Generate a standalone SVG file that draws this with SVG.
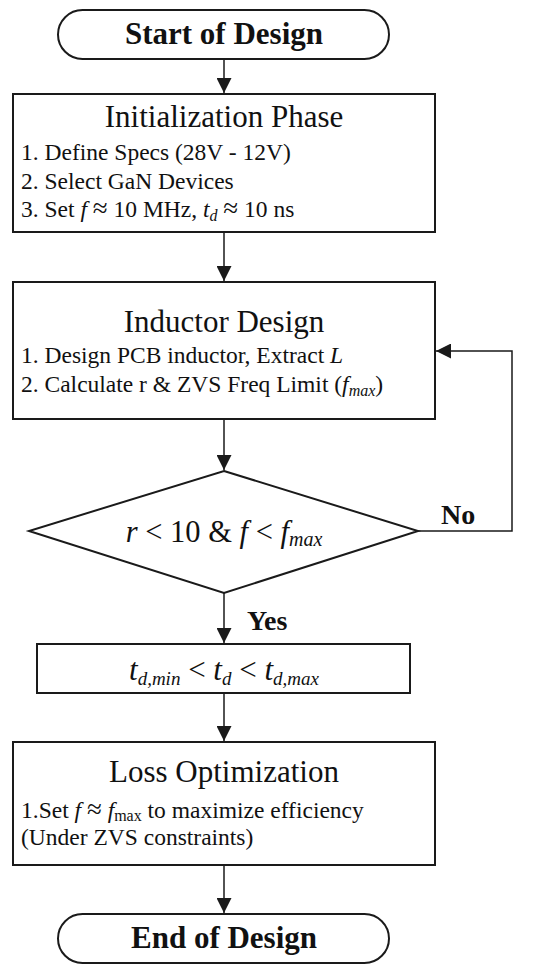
<svg xmlns="http://www.w3.org/2000/svg" width="550" height="972" viewBox="0 0 550 972">
<style>
.box{fill:#fff;stroke:#1a1a1a;stroke-width:2}
.ln{stroke:#1a1a1a;stroke-width:1.5;fill:none}
.t{font-family:"Liberation Serif","Times New Roman",serif;fill:#111}
.b{font-weight:bold}
.i{font-style:italic}
.h{font-size:31px}
.p{font-size:23.5px}
</style>
<defs>
<marker id="arr" viewBox="0 0 10 10" refX="10" refY="5" markerWidth="15" markerHeight="15" markerUnits="userSpaceOnUse" orient="auto">
<path d="M0,0 L10,5 L0,10 z" fill="#1a1a1a"/>
</marker>
</defs>
<rect width="550" height="972" fill="#fff"/>
<g id="connectors">
<line class="ln" x1="224" y1="59" x2="224" y2="93" marker-end="url(#arr)"/>
<line class="ln" x1="224" y1="232" x2="224" y2="281" marker-end="url(#arr)"/>
<line class="ln" x1="224" y1="419" x2="224" y2="470" marker-end="url(#arr)"/>
<polyline class="ln" points="418,531 512,531 512,351 436,351" marker-end="url(#arr)"/>
<line class="ln" x1="224" y1="593" x2="224" y2="643" marker-end="url(#arr)"/>
<line class="ln" x1="224" y1="693" x2="224" y2="741" marker-end="url(#arr)"/>
<line class="ln" x1="224" y1="865" x2="224" y2="913" marker-end="url(#arr)"/>
<text class="t b" x="441" y="524" font-size="28">No</text>
<text class="t b" x="247" y="630" font-size="28">Yes</text>
</g>
<g id="start">
<rect class="box" x="58" y="10" width="331" height="49" rx="24.5"/>
<text class="t b h" x="224" y="44" text-anchor="middle">Start of Design</text>
</g>
<g id="init">
<rect class="box" x="13" y="94" width="422" height="138"/>
<text class="t h" x="224" y="127" text-anchor="middle">Initialization Phase</text>
<text class="t p" x="21" y="160">1. Define Specs (28V - 12V)</text>
<text class="t p" x="21" y="188.5">2. Select GaN Devices</text>
<text class="t p" x="21" y="217">3. Set <tspan class="i">f</tspan> <tspan font-size="27">≈</tspan> 10 MHz, <tspan class="i">t</tspan><tspan class="i" font-size="16" dy="4">d</tspan><tspan dy="-4"> </tspan><tspan font-size="27">≈</tspan> 10 ns</text>
</g>
<g id="inductor">
<rect class="box" x="13" y="282" width="422" height="137"/>
<text class="t h" x="224" y="332" text-anchor="middle">Inductor Design</text>
<text class="t p" x="21" y="363">1. Design PCB inductor, Extract <tspan class="i">L</tspan></text>
<text class="t p" x="21" y="392">2. Calculate r &amp; ZVS Freq Limit (<tspan class="i">f</tspan><tspan class="i" font-size="16" dy="4">max</tspan><tspan dy="-4">)</tspan></text>
</g>
<g id="decision">
<polygon class="box" points="224,471 418,531 224,593 29,531"/>
<text class="t" x="224" y="542" text-anchor="middle" font-size="30.5"><tspan class="i">r</tspan> &lt; 10 &amp; <tspan class="i">f</tspan> &lt; <tspan class="i">f</tspan><tspan class="i" font-size="20" dy="4">max</tspan></text>
</g>
<g id="deadtime">
<rect class="box" x="37" y="644" width="373" height="49"/>
<text class="t" x="224" y="680" text-anchor="middle" font-size="31"><tspan class="i">t</tspan><tspan class="i" font-size="19" dy="5">d,min</tspan><tspan dy="-5"> &lt; </tspan><tspan class="i">t</tspan><tspan class="i" font-size="19" dy="5">d</tspan><tspan dy="-5"> &lt; </tspan><tspan class="i">t</tspan><tspan class="i" font-size="19" dy="5">d,max</tspan></text>
</g>
<g id="loss">
<rect class="box" x="13" y="742" width="422" height="123"/>
<text class="t h" x="224" y="782" text-anchor="middle">Loss Optimization</text>
<text class="t p" x="21" y="818">1.Set <tspan class="i">f</tspan> <tspan font-size="27">≈</tspan> <tspan class="i">f</tspan><tspan font-size="16" dy="3">max</tspan><tspan dy="-3"> to maximize efficiency</tspan></text>
<text class="t p" x="21" y="845">(Under ZVS constraints)</text>
</g>
<g id="end">
<rect class="box" x="58" y="914" width="331" height="49" rx="24.5"/>
<text class="t b h" x="224" y="948" text-anchor="middle">End of Design</text>
</g>
</svg>
